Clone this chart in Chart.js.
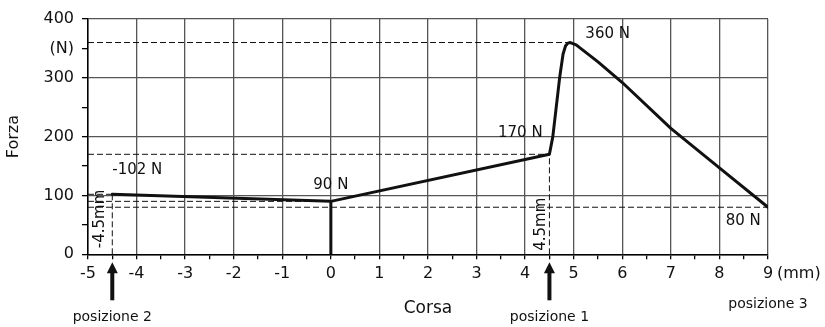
<!DOCTYPE html>
<html lang="it">
<head>
<meta charset="UTF-8">
<title>Forza - Corsa</title>
<script src="https://cdn.jsdelivr.net/npm/chart.js"></script>
<style>
  body { margin: 0; background: #fff; }
  #wrap { width: 825px; height: 327px; position: relative; }
</style>
</head>
<body>
<div id="wrap"><canvas id="forzaChart"></canvas></div>
<script>
// force / stroke curve
const corsa = [-4.5, 0, 4.5, 4.57, 4.71, 4.78, 4.83, 4.88, 4.93, 5.05, 5.5, 6, 7, 8, 9];
const forza = [102, 90, 170, 200, 300, 340, 354, 359, 360, 356, 327, 292, 214, 147, 80];

// quoted points (stroke mm, force N)
const quotaX = [-4.5, 0, 4.5, 4.93, 9];
const quotaF = [-102, 90, 170, 360, 80];

// positions marked under the axis
const posizioneX = [-4.5, 4.5, 9];
const posizioneNome = ['posizione 2', 'posizione 1', 'posizione 3'];

const xTicks = [-5, -4, -3, -2, -1, 0, 1, 2, 3, 4, 5, 6, 7, 8, 9];
const yTicks = [0, 100, 200, 300, 400];

const FONT = '"DejaVu Sans", sans-serif';
const INK = '#111';
const GRID = '#555';

// dashed reference lines: horizontal from the axis to each quoted point,
// vertical from the axis up to the two end positions
const guide = [];
quotaX.forEach((x, i) => {
    guide.push({ x: -5, y: Math.abs(quotaF[i]) }, { x: x, y: Math.abs(quotaF[i]) }, { x: NaN, y: NaN });
});
[posizioneX[0], posizioneX[1]].forEach(x => {
    const f = Math.abs(quotaF[quotaX.indexOf(x)]);
    guide.push({ x: x, y: 0 }, { x: x, y: f }, { x: NaN, y: NaN });
});

const curva = corsa.map((x, i) => ({ x: x, y: forza[i] }));
const zeroF = Math.abs(quotaF[quotaX.indexOf(0)]);

const noteLayout = [
    { x: -4.5, y: 143, align: 'left' },
    { x: 0, y: 118, align: 'center' },
    { x: 4.36, y: 206, align: 'right' },
    { x: 5.24, y: 375, align: 'left' },
    { x: 8.85, y: 57, align: 'right' }
];

const notes = {
    id: 'notes',
    afterDraw(chart) {
        const { ctx, scales: { x: sx, y: sy } } = chart;
        ctx.save();
        ctx.fillStyle = INK;
        ctx.font = '15px ' + FONT;
        ctx.textBaseline = 'middle';

        quotaF.forEach((f, i) => {
            const n = noteLayout[i];
            ctx.textAlign = n.align;
            ctx.fillText(f + ' N', sx.getPixelForValue(n.x), sy.getPixelForValue(n.y));
        });

        // stroke lengths written along the vertical guides
        [[posizioneX[0], -4.75, 60], [posizioneX[1], 4.32, 51]].forEach(([v, px, py]) => {
            ctx.save();
            ctx.translate(sx.getPixelForValue(px), sy.getPixelForValue(py));
            ctx.rotate(-Math.PI / 2);
            ctx.textAlign = 'center';
            ctx.fillText(v + 'mm', 0, 0);
            ctx.restore();
        });

        // unit after the last tick
        ctx.font = '16px ' + FONT;
        ctx.textAlign = 'left';
        ctx.fillText('(mm)', sx.getPixelForValue(9) + 9, sx.top + 20);

        // arrows and position names
        ctx.font = '14px ' + FONT;
        ctx.textAlign = 'center';
        posizioneX.forEach((v, i) => {
            const px = sx.getPixelForValue(v);
            if (i < 2) {
                const tip = sx.top + 8;
                ctx.beginPath();
                ctx.moveTo(px, tip);
                ctx.lineTo(px - 5.5, tip + 11);
                ctx.lineTo(px + 5.5, tip + 11);
                ctx.closePath();
                ctx.fill();
                ctx.fillRect(px - 2, tip + 10, 4, 28);
                ctx.fillText(posizioneNome[i], px, 317);
            } else {
                ctx.fillText(posizioneNome[i], px, 304);
            }
        });
        ctx.restore();
    }
};

new Chart(document.getElementById('forzaChart'), {
    type: 'line',
    data: {
        datasets: [
            {
                data: guide,
                borderColor: INK,
                borderWidth: 1,
                borderDash: [6, 3],
                pointRadius: 0,
                spanGaps: false
            },
            {
                data: [{ x: 0, y: 0 }, { x: 0, y: zeroF }],
                borderColor: INK,
                borderWidth: 3,
                pointRadius: 0
            },
            {
                data: curva,
                borderColor: INK,
                borderWidth: 3,
                borderJoinStyle: 'round',
                borderCapStyle: 'round',
                pointRadius: 0,
                tension: 0
            }
        ]
    },
    options: {
        responsive: true,
        maintainAspectRatio: false,
        animation: false,
        layout: { padding: { left: 0, right: 57, top: 19, bottom: 0 } },
        plugins: {
            legend: { display: false },
            tooltip: { enabled: false }
        },
        scales: {
            x: {
                type: 'linear',
                min: -5,
                max: 9,
                afterFit: s => { s.height = 72.7; },
                afterBuildTicks: s => {
                    s.ticks = [];
                    for (let v = xTicks[0]; v <= xTicks[xTicks.length - 1]; v += 0.5) s.ticks.push({ value: v });
                },
                border: { color: '#000', width: 1.5 },
                grid: {
                    color: c => Number.isInteger(c.tick.value) ? GRID : 'rgba(0,0,0,0)',
                    lineWidth: 1.3,
                    tickColor: '#000',
                    tickLength: 5
                },
                ticks: {
                    autoSkip: false,
                    maxRotation: 0,
                    padding: 5,
                    color: INK,
                    font: { family: FONT, size: 16 },
                    callback: v => xTicks.includes(v) ? String(v) : ''
                },
                title: {
                    display: true,
                    text: 'Corsa',
                    color: INK,
                    font: { family: FONT, size: 17 },
                    padding: { top: 0, bottom: 8 }
                }
            },
            y: {
                min: 0,
                max: 400,
                afterFit: s => { s.width = 88; },
                afterBuildTicks: s => {
                    s.ticks = [];
                    for (let v = 0; v <= 400; v += 50) s.ticks.push({ value: v });
                },
                border: { color: '#000', width: 1.5 },
                grid: {
                    color: c => yTicks.includes(c.tick.value) ? GRID : 'rgba(0,0,0,0)',
                    lineWidth: 1.3,
                    tickColor: '#000',
                    tickLength: 6
                },
                ticks: {
                    autoSkip: false,
                    padding: 8,
                    color: INK,
                    font: { family: FONT, size: 16 },
                    callback: v => yTicks.includes(v) ? String(v) : (v === 350 ? '(N)' : '')
                },
                title: {
                    display: true,
                    text: 'Forza',
                    color: INK,
                    font: { family: FONT, size: 16 },
                    padding: { top: 4, bottom: 0 }
                }
            }
        }
    },
    plugins: [notes]
});
</script>
</body>
</html>
